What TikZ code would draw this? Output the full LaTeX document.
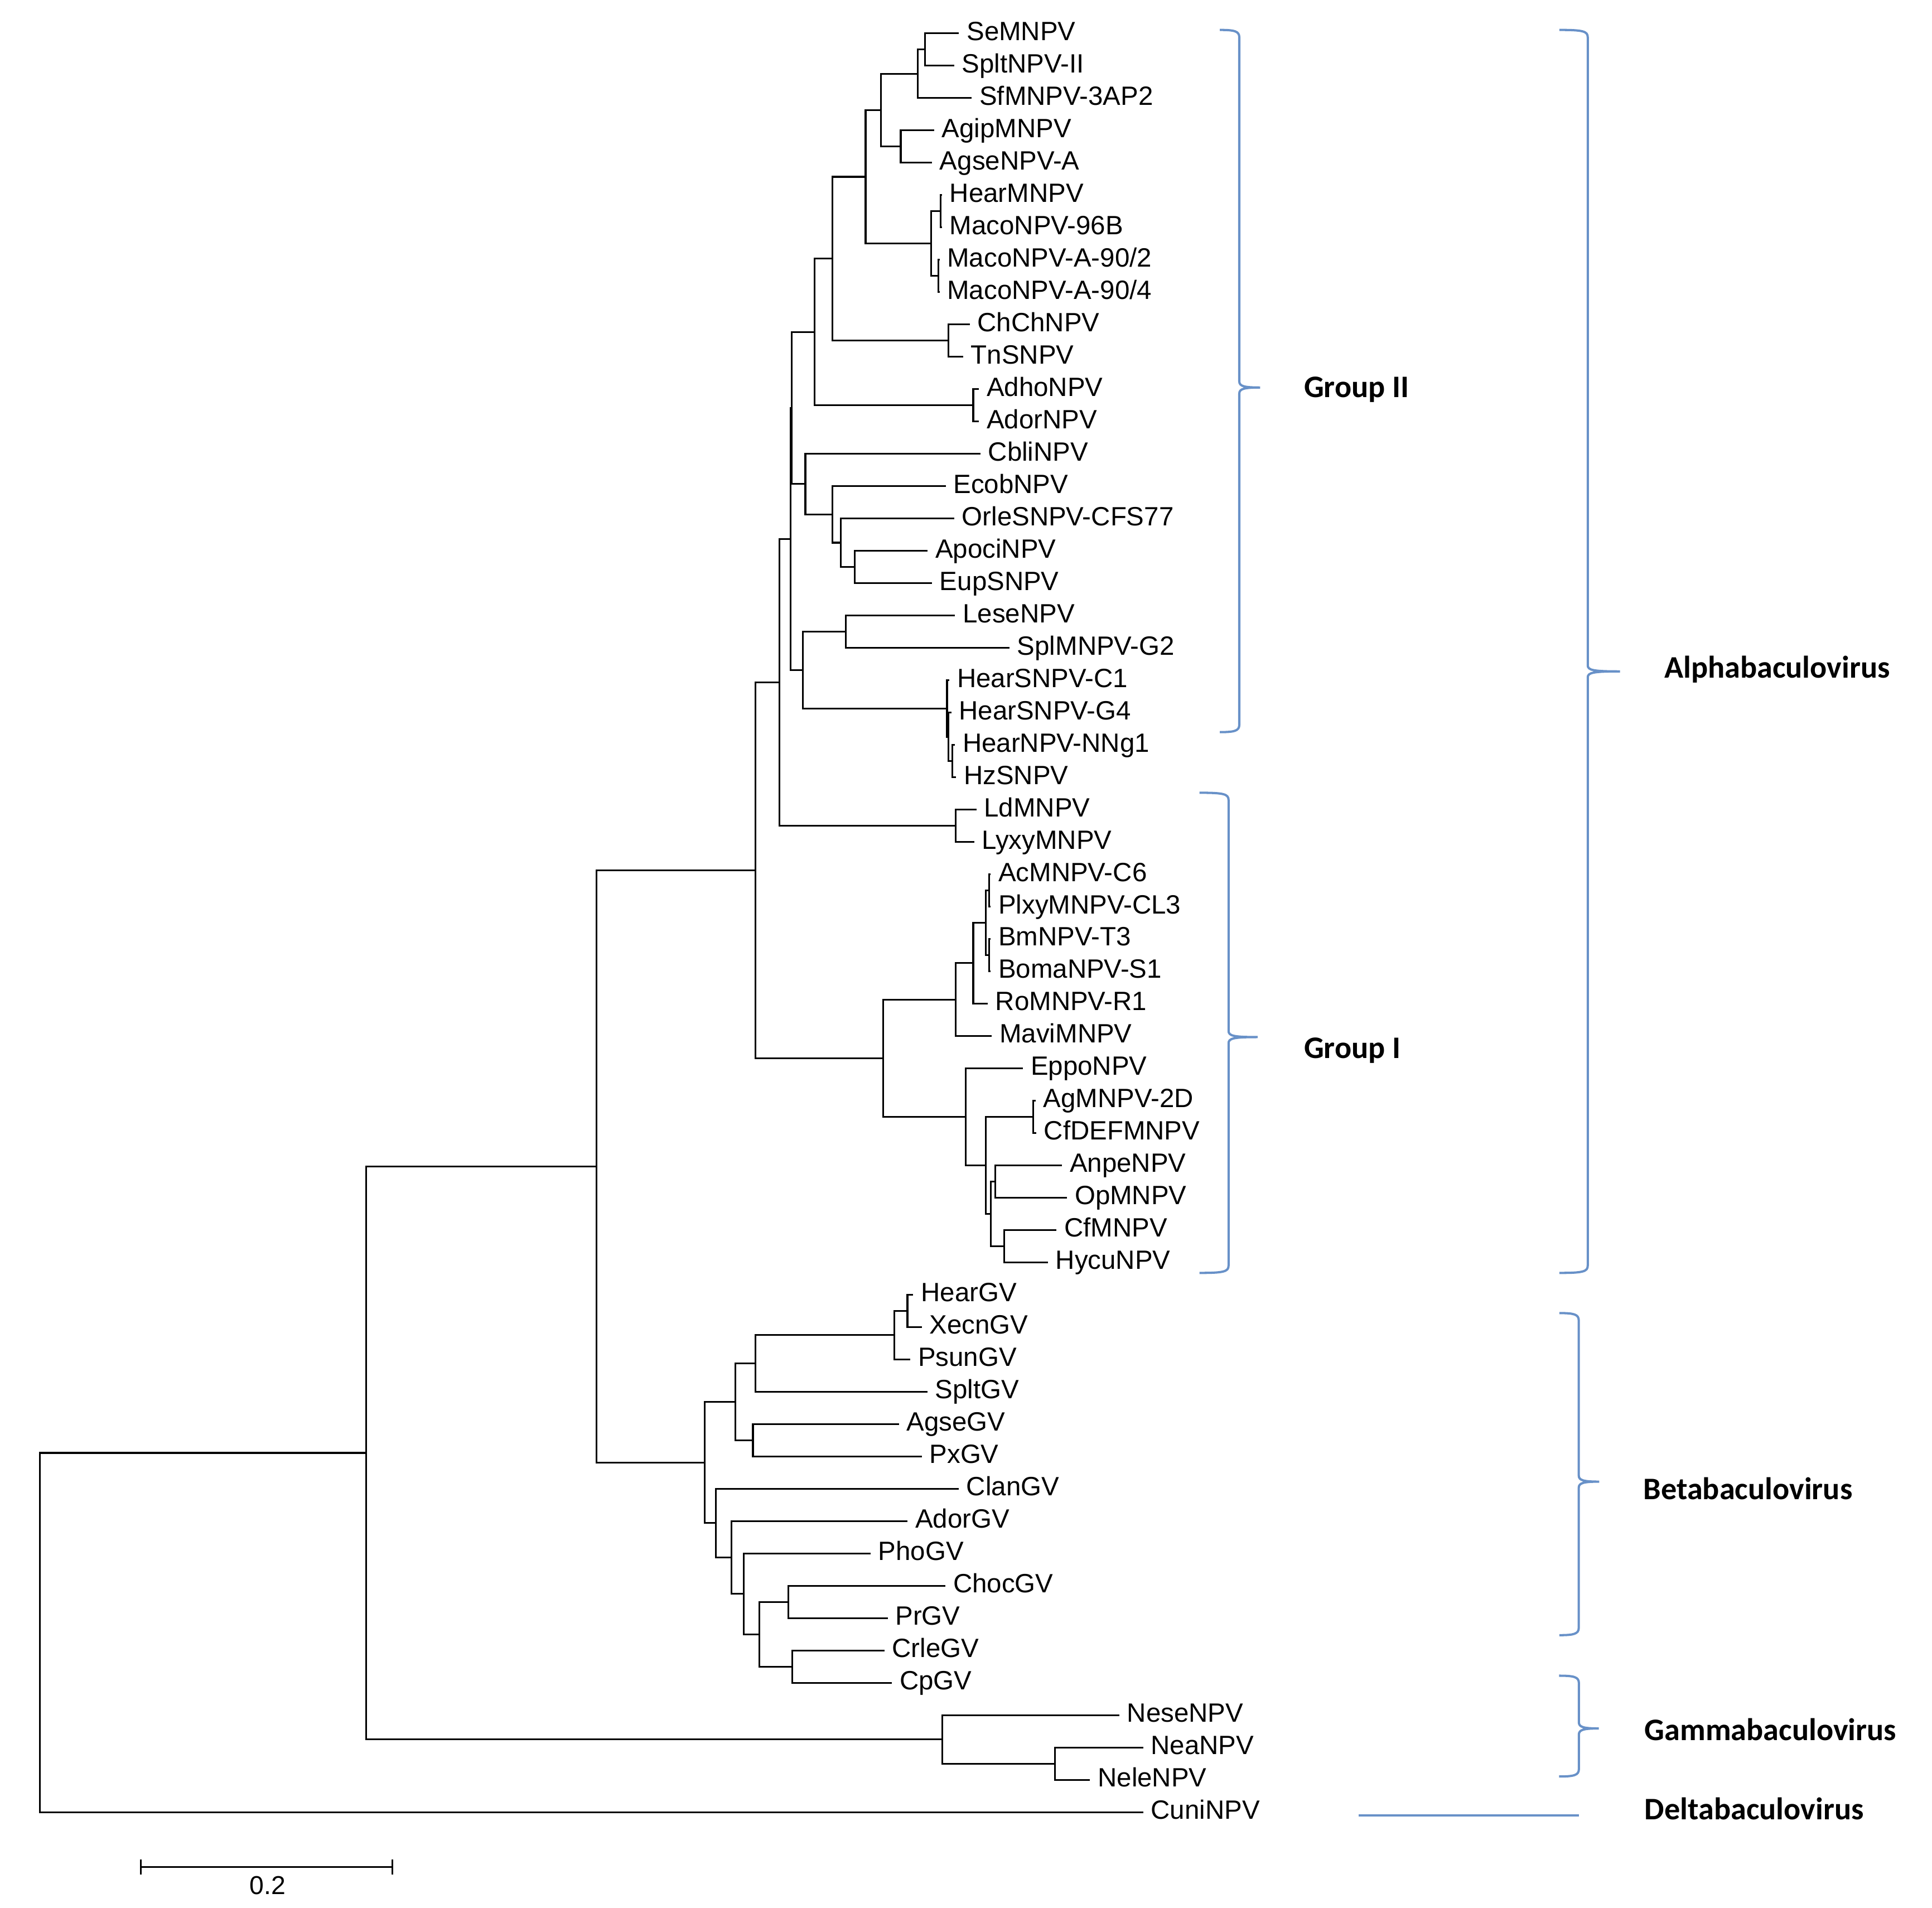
\documentclass[tikz,border=0pt]{standalone}
\usepackage{fontspec}
\setmainfont{Liberation Sans}
\newfontfamily\carlito{Carlito}
\usetikzlibrary{calc}
\definecolor{brblue}{RGB}{104,145,200}
\tikzset{
 tree/.style={line width=0.9pt, line join=miter, line cap=butt},
 brk/.style={draw=brblue, line width=1.15pt},
 leaflab/.style={anchor=base west, inner sep=0pt, font=\fontsize{13.5pt}{15pt}\selectfont},
 grplab/.style={anchor=base west, inner sep=0pt, font=\carlito\bfseries\fontsize{16pt}{19pt}\selectfont},
 sblab/.style={anchor=base, inner sep=0pt, font=\fontsize{13.2pt}{15pt}\selectfont},
}
\newcommand\leaf[3]{%
  \coordinate (t#1) at (#2,{27+(#1-1)*26.25});
  \node[leaflab] (lab#1) at (#2+6,{27+(#1-1)*26.25+5.7}) {#3};}
\newcommand\inode[4]{%
  \path ($(#3)!0.5!(#4)$) coordinate (m#1);
  \coordinate (#1) at (#2,0 |- m#1);
  \draw[tree] (#1) |- (#3) (#1) |- (#4);}
\newcommand\rbr[6]{%
  \draw[brk] (#1,#4) .. controls (#2-4,#4) and (#2,#4+1) .. (#2,#4+6)
    -- (#2,#5-5) .. controls (#2,#5-1) and (#2+4,#5) .. (#3,#5)
    .. controls (#2+4,#5) and (#2,#5+1) .. (#2,#5+5)
    -- (#2,#6-6) .. controls (#2,#6-1) and (#2-4,#6) .. (#1,#6);}
\begin{document}
\begin{tikzpicture}[x=0.022092cm, y=-0.022092cm]
\useasboundingbox (0,0) rectangle (1568,1548.5);
% leaves
\leaf{1}{778.3}{SeMNPV}
\leaf{2}{774.4}{SpltNPV-II}
\leaf{3}{788.7}{SfMNPV-3AP2}
\leaf{4}{758.2}{AgipMNPV}
\leaf{5}{756.4}{AgseNPV-A}
\leaf{6}{764.5}{HearMNPV}
\leaf{7}{764.5}{MacoNPV-96B}
\leaf{8}{762.5}{MacoNPV-A-90/2}
\leaf{9}{762.5}{MacoNPV-A-90/4}
\leaf{10}{787}{ChChNPV}
\leaf{11}{781.7}{TnSNPV}
\leaf{12}{794.5}{AdhoNPV}
\leaf{13}{794.5}{AdorNPV}
\leaf{14}{795.7}{CbliNPV}
\leaf{15}{767.5}{EcobNPV}
\leaf{16}{774.4}{OrleSNPV-CFS77}
\leaf{17}{752.9}{ApociNPV}
\leaf{18}{756.4}{EupSNPV}
\leaf{19}{775.1}{LeseNPV}
\leaf{20}{819.3}{SplMNPV-G2}
\leaf{21}{770.5}{HearSNPV-C1}
\leaf{22}{772}{HearSNPV-G4}
\leaf{23}{775}{HearNPV-NNg1}
\leaf{24}{776}{HzSNPV}
\leaf{25}{792.4}{LdMNPV}
\leaf{26}{790.6}{LyxyMNPV}
\leaf{27}{804}{AcMNPV-C6}
\leaf{28}{804}{PlxyMNPV-CL3}
\leaf{29}{804}{BmNPV-T3}
\leaf{30}{804}{BomaNPV-S1}
\leaf{31}{801.6}{RoMNPV-R1}
\leaf{32}{805}{MaviMNPV}
\leaf{33}{830.2}{EppoNPV}
\leaf{34}{840.5}{AgMNPV-2D}
\leaf{35}{841}{CfDEFMNPV}
\leaf{36}{861.9}{AnpeNPV}
\leaf{37}{866}{OpMNPV}
\leaf{38}{857.5}{CfMNPV}
\leaf{39}{850.5}{HycuNPV}
\leaf{40}{741.2}{HearGV}
\leaf{41}{748.1}{XecnGV}
\leaf{42}{738.8}{PsunGV}
\leaf{43}{752.7}{SpltGV}
\leaf{44}{729.6}{AgseGV}
\leaf{45}{748.1}{PxGV}
\leaf{46}{778.1}{ClanGV}
\leaf{47}{736.5}{AdorGV}
\leaf{48}{706.5}{PhoGV}
\leaf{49}{767.3}{ChocGV}
\leaf{50}{720.4}{PrGV}
\leaf{51}{717.8}{CrleGV}
\leaf{52}{723.9}{CpGV}
\leaf{53}{908.4}{NeseNPV}
\leaf{54}{927.8}{NeaNPV}
\leaf{55}{884.7}{NeleNPV}
\leaf{56}{927.8}{CuniNPV}
% internal nodes
\inode{A1}{750.6}{t1}{t2}
\inode{A2}{744.8}{A1}{t3}
\inode{A4}{731}{t4}{t5}
\inode{A3}{714.8}{A2}{A4}
\inode{H1}{763.3}{t6}{t7}
\inode{H2}{761.7}{t8}{t9}
\inode{H0}{755.7}{H1}{H2}
\inode{A5}{702.5}{A3}{H0}
\inode{C1}{769.8}{t10}{t11}
\inode{A6}{675.5}{A5}{C1}
\inode{D1}{789.9}{t12}{t13}
\inode{A7}{661}{A6}{D1}
\inode{B4}{693.5}{t17}{t18}
\inode{B3}{682.5}{t16}{B4}
\inode{B2}{675.5}{t15}{B3}
\inode{B1}{653.6}{t14}{B2}
\inode{A8}{642.7}{A7}{B1}
\inode{LS}{686.5}{t19}{t20}
\inode{HS3}{773}{t23}{t24}
\inode{HS2}{769.9}{t22}{HS3}
\inode{HS1}{768.6}{t21}{HS2}
\inode{EE}{651.6}{LS}{HS1}
\inode{A9}{641.8}{A8}{EE}
\inode{LL}{775.6}{t25}{t26}
\inode{A10}{632.5}{A9}{LL}
\inode{G3}{802.9}{t27}{t28}
\inode{G4}{802.9}{t29}{t30}
\inode{G2}{800.1}{G3}{G4}
\inode{G1}{789.9}{G2}{t31}
\inode{G0}{775.6}{G1}{t32}
\inode{AC}{838.5}{t34}{t35}
\inode{AO}{807.6}{t36}{t37}
\inode{CH}{815.1}{t38}{t39}
\inode{P2}{804.2}{AO}{CH}
\inode{P1}{800.1}{AC}{P2}
\inode{P0}{783.9}{t33}{P1}
\inode{GI}{716.6}{G0}{P0}
\inode{A12}{613.2}{A10}{GI}
\inode{Q1a}{736.5}{t40}{t41}
\inode{Q1}{725.7}{Q1a}{t42}
\inode{Q2}{613}{Q1}{t43}
\inode{QA}{611.1}{t44}{t45}
\inode{Q3}{596.8}{Q2}{QA}
\inode{CP}{640}{t49}{t50}
\inode{CC}{643}{t51}{t52}
\inode{Q8}{616.4}{CP}{CC}
\inode{Q7}{603.8}{t48}{Q8}
\inode{Q6}{593.8}{t47}{Q7}
\inode{Q5}{581.1}{t46}{Q6}
\inode{Q4}{571.9}{Q3}{Q5}
\inode{R1}{484.2}{A12}{Q4}
\inode{NN}{856.2}{t54}{t55}
\inode{GA}{764.7}{t53}{NN}
\inode{R2}{297.1}{R1}{GA}
\inode{RT}{32.3}{R2}{t56}
% scale bar
\coordinate (sb0) at (114.4,1515.3);
\coordinate (sb1) at (318.5,1515.3);
\draw[tree] (sb0) -- (sb1);
\draw[tree] ($(sb0)+(0,-6)$) -- ($(sb0)+(0,6)$);
\draw[tree] ($(sb1)+(0,-6)$) -- ($(sb1)+(0,6)$);
\node[sblab] (sbl) at (217.3,1537.3) {0.2};
% brackets
\rbr{990}{1005.8}{1022.7}{24.3}{314.5}{594.2}
\rbr{973.5}{997.1}{1020.7}{643.4}{841.7}{1033.1}
\rbr{1265.6}{1288.6}{1314.8}{24.3}{544.9}{1033.1}
\rbr{1265.6}{1281.3}{1297.9}{1065.7}{1202.5}{1327.1}
\rbr{1265.3}{1281.4}{1297.6}{1360}{1402.8}{1441.8}
\coordinate (dl0) at (1102.7,1473.4);
\coordinate (dl1) at (1281.4,1473.4);
\draw[brk] (dl0) -- (dl1);
% group labels
\node[grplab] (g2) at (1058,322.5) {Group II};
\node[grplab] (g1) at (1058,859) {Group I};
\node[grplab] (alpha) at (1350.5,550) {Alphabaculovirus};
\node[grplab] (beta) at (1333.5,1217) {Betabaculovirus};
\node[grplab] (gamma) at (1334.5,1412.5) {Gammabaculovirus};
\node[grplab] (delta) at (1334.5,1477) {Deltabaculovirus};
\end{tikzpicture}
\end{document}
